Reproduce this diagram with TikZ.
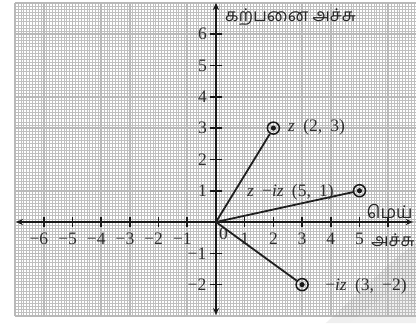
\documentclass[tikz,border=0pt]{standalone}
\usepackage{fontspec}
\setmainfont{Liberation Serif}
\newfontfamily\tamil[Script=Tamil]{Hind Madurai}
\usetikzlibrary{arrows.meta}
\tikzset{
  finegrid/.style={draw=gray!50,line width=0.6pt},
  majorgrid/.style={draw=gray!55,line width=1.6pt},
  axisline/.style={line width=1.7pt,draw=black!90,arrows={Stealth[length=7pt,width=6pt]-Stealth[length=7pt,width=6pt]}},
  tickmark/.style={line width=1.6pt,draw=black!90},
  vecline/.style={line width=1.8pt,draw=black!88},
  ptmark/.style={circle,draw=black!90,line width=1.5pt,minimum size=12pt,inner sep=0pt},
  lab/.style={inner sep=0pt,font=\fontsize{17.5}{19}\selectfont,text=black!82},
  tlab/.style={inner sep=0pt,font=\tamil\fontsize{17.5}{19}\selectfont,text=black!85},
}
\newcommand{\msp}{\hspace{0.47em}}
\begin{document}
\begin{tikzpicture}[x=28.7pt,y=31.3pt]
\useasboundingbox (-7.526,-3.227) rectangle (6.969,7.093);
% grid
\draw[finegrid] (-7,-3) grid[step=0.1] (7,7);
\draw[majorgrid] (-7,-3) grid[step=1] (7,7);
% watermark
\fill[gray,opacity=0.13] (3.83,-3.227) -- (6.27,-1.15) -- (6.969,-0.67) -- (6.969,-3.227) -- cycle;
\fill[white,opacity=0.10] (4.67,-3.227) -- (6.34,-2.01) -- (6.969,-2.81) -- (6.969,-3.227) -- cycle;
% axes
\coordinate (O) at (0,0);
\coordinate (xl) at (-6.97,0);
\coordinate (xr) at (6.86,0);
\coordinate (yb) at (0,-2.97);
\coordinate (yt) at (0,7.0);
\draw[axisline] (xl) -- (xr);
\draw[axisline] (yb) -- (yt);
% x ticks
\foreach \x in {-6,...,-1,1,2,...,6} {
  \draw[tickmark] (\x,-0.16) -- (\x,0.16);
}
\foreach \x in {-6,...,-1} {
  \node[lab,anchor=north] (xt\x) at (\x,-0.35) {\llap{−}\the\numexpr-\x\relax};
}
\foreach \x in {1,...,5} {
  \node[lab,anchor=north] (xt\x) at (\x,-0.35) {\x};
}
\node[lab,anchor=north] (zero) at (0.26,-0.19) {0};
% y ticks
\foreach \y in {-2,-1,1,2,...,6} {
  \draw[tickmark] (-0.21,\y) -- (0.21,\y);
}
\foreach \y in {1,...,6} {
  \node[lab,anchor=east] (yt\y) at (-0.31,\y) {\y};
}
\foreach \y in {-2,-1} {
  \node[lab,anchor=east] (yt\y) at (-0.33,\y) {−\the\numexpr-\y\relax};
}
% points
\node[ptmark] (A) at (2,3) {};
\node[ptmark] (B) at (5,1) {};
\node[ptmark] (C) at (3,-2) {};
\foreach \p in {A,B,C} { \fill[black!90] (\p.center) circle (2.6pt); }
\draw[vecline] (O) -- (A);
\draw[vecline] (O) -- (B);
\draw[vecline] (O) -- (C);
% labels
\node[lab,anchor=west] (la) at (2.51,3.02) {\textit{z}\msp(2,\msp3)};
\node[lab,anchor=west] (lb) at (1.08,0.95) {\textit{z}\msp−\textit{iz}\msp(5,\msp1)};
\node[lab,anchor=west] (lc) at (3.8,-2.05) {−\textit{iz}\msp(3,\msp−2)};
% axis names
\node[tlab,anchor=west] (im) at (0.31,6.55) {கற்பனை அச்சு};
\node[tlab,anchor=east] (re1) at (6.86,0.32) {மெய்};
\node[tlab,anchor=east] (re2) at (6.93,-0.58) {அச்சு};
\end{tikzpicture}
\end{document}
